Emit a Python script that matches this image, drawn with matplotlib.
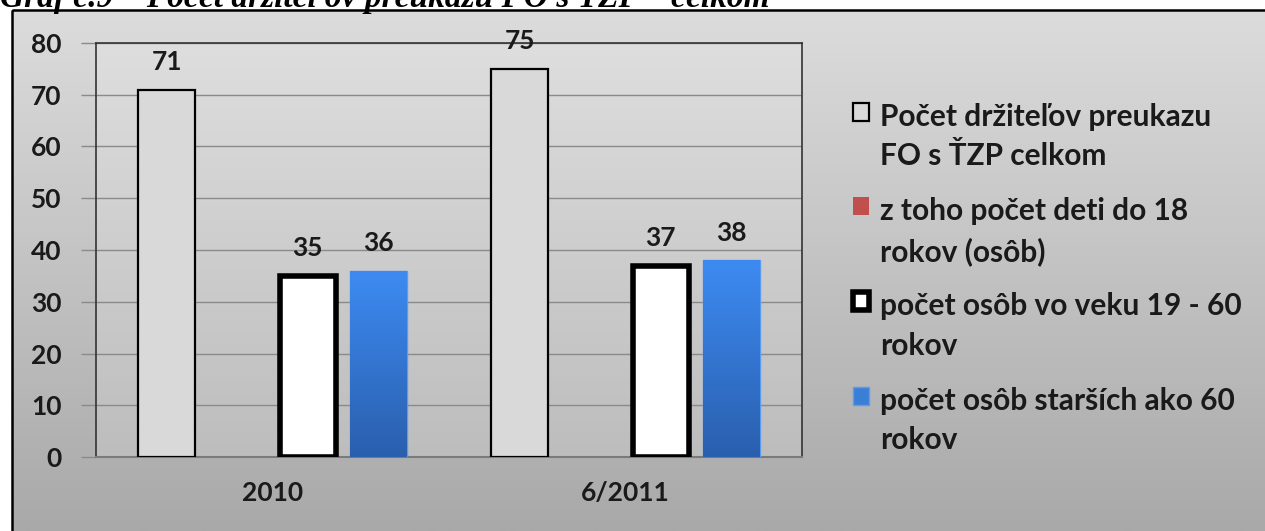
import numpy as np
import matplotlib
import matplotlib.pyplot as plt
from matplotlib.patches import Rectangle

matplotlib.use('Agg')

plt.rcParams['font.family'] = ['Lato', 'DejaVu Sans']
plt.rcParams['font.weight'] = 'bold'

# Data
categories = ['2010', '6/2011']
series_names = [
    'Počet držiteľov preukazu\nFO s ŤZP celkom',
    'z toho počet deti do 18\nrokov (osôb)',
    'počet osôb vo veku 19 - 60\nrokov',
    'počet osôb starších ako 60\nrokov',
]
total_holders = [71, 75]
children = [0, 0]
age_19_60 = [35, 37]
age_over_60 = [36, 38]
y_ticks = [0, 10, 20, 30, 40, 50, 60, 70, 80]

W, H = 1265, 531
fig = plt.figure(figsize=(W / 100, H / 100), dpi=100)

# chart background with gradient
bg = fig.add_axes([0, 0, 1, 1], zorder=-10)
bg.set_xlim(0, W)
bg.set_ylim(H, 0)
bg.axis('off')
grad = np.linspace(0, 1, 256).reshape(-1, 1)
bg.imshow(grad, extent=[12, W, H, 10], cmap=matplotlib.colors.LinearSegmentedColormap.from_list(
    'g', ['#dcdcdc', '#a9a9a9']), aspect='auto', zorder=0)
bg.add_patch(Rectangle((12, 10), W, H, fill=False, edgecolor='black', lw=1.8, zorder=2))
# title is cut at the top edge like in the source document
bg.text(0, 7, 'Graf č.9 \u2013 Počet držiteľov preukazu FO s ŤZP \u2013 celkom',
        family='Liberation Serif', style='italic', weight='bold', fontsize=24,
        va='baseline', ha='left', color='black', zorder=1)

ax = fig.add_axes([96 / W, (H - 457) / H, (802 - 96) / W, (457 - 43) / H])
ax.set_xlim(-0.5, 1.5)
ax.set_ylim(0, 80)
ax.imshow(grad, extent=[-0.5, 1.5, 0, 80], cmap=matplotlib.colors.LinearSegmentedColormap.from_list(
    'p', ['#bdbdbd', '#dedede']), aspect='auto', origin='lower', zorder=0)

x = np.arange(len(categories))
w = 0.16
offsets = [-0.3, -0.1, 0.1, 0.3]

b1 = ax.bar(x + offsets[0], total_holders, w, color='#d9d9d9', edgecolor='black', lw=1.6,
            label=series_names[0], zorder=3)
b2 = ax.bar(x + offsets[1], children, w, color='#c0504d', lw=0, label=series_names[1], zorder=3)
b3 = ax.bar(x + offsets[2], age_19_60, w, color='white', edgecolor='black', lw=4,
            label=series_names[2], zorder=3)
b4 = ax.bar(x + offsets[3], age_over_60, w, color='#3a7fd6', edgecolor='#5b9bf0', lw=1,
            label=series_names[3], zorder=3)

# gradient inside the blue bars
blue_cmap = matplotlib.colors.LinearSegmentedColormap.from_list('b', ['#2a5fae', '#3d8bf2'])
for rect in b4:
    im = ax.imshow(grad, extent=[rect.get_x(), rect.get_x() + rect.get_width(), 0, rect.get_height()],
                   cmap=blue_cmap, aspect='auto', origin='lower', zorder=3.5)
    im.set_clip_path(rect)
ax.set_xlim(-0.5, 1.5)
ax.set_ylim(0, 80)

for bars in (b1, b3, b4):
    for rect in bars:
        ax.text(rect.get_x() + rect.get_width() / 2, rect.get_height() + 3.0, f'{rect.get_height():.0f}',
                ha='center', va='bottom', fontsize=19, weight='bold', color='#1a1a1a', zorder=5)

ax.set_yticks(y_ticks)
ax.set_xticks(x)
ax.set_xticklabels(categories)
ax.tick_params(axis='y', length=11, width=1, color='#8a8a8a', labelsize=19, pad=14)
ax.tick_params(axis='x', length=0, labelsize=19, pad=17)
for lab in ax.get_xticklabels() + ax.get_yticklabels():
    lab.set_fontweight('bold')
    lab.set_color('#1a1a1a')
ax.grid(axis='y', color='#8a8a8a', lw=1, zorder=1)
ax.set_axisbelow(True)
for s in ('top', 'right', 'left'):
    ax.spines[s].set_color('#333333')
    ax.spines[s].set_linewidth(1.2)
ax.spines['bottom'].set_color('#7a7a7a')
ax.spines['bottom'].set_linewidth(1.5)

leg = ax.legend(handles=[b1, b2, b3, b4], loc='upper left', bbox_to_anchor=(826 / W, 1 - 76 / H),
                bbox_transform=fig.transFigure, frameon=False, handlelength=0.55,
                handleheight=0.55, handletextpad=0.35, labelspacing=0.89,
                prop={'weight': 'bold', 'size': 21.5})
for t in leg.get_texts():
    t.set_linespacing(1.5)
    t.set_color('#1a1a1a')
# put the legend squares next to the first text line (as in Excel)
for column in leg._legend_handle_box.get_children():
    for item in column.get_children():
        item.align = 'top'

fig.savefig('out.png', dpi=100)
